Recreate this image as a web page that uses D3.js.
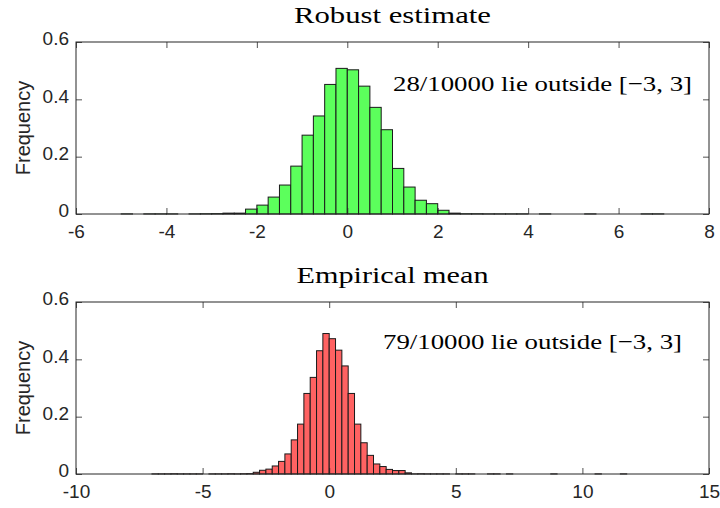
<!DOCTYPE html>
<html>
<head>
<meta charset="utf-8">
<script src="https://cdn.jsdelivr.net/npm/d3@7"></script>
<style>
  body { margin: 0; background: #fff; }
  svg { display: block; }
</style>
</head>
<body>
<div id="chart"></div>
<script>
// histogram data (bin width 0.25, normalized frequency)
const binWidth = 0.25;

// Robust estimate: bins from -5 to 7
const robustStart = -5;
const robustFreq = [
  0.0004, 0, 0.0004, 0.0004, 0.0004, 0, 0.0004, 0.0008, 0.0012,
  0.003, 0.003, 0.017, 0.031, 0.059, 0.101, 0.167, 0.275, 0.342, 0.452,
  0.508, 0.503, 0.446, 0.372, 0.294, 0.159, 0.094, 0.048, 0.036, 0.013, 0.003,
  0.0008, 0.0008, 0.0004, 0.0004, 0.0004, 0.0004, 0, 0.0004, 0, 0, 0,
  0.0004, 0, 0, 0, 0, 0.0004, 0.0004
];

// Empirical mean: bins from -7 to 12
const meanStart = -7;
const meanFreq = [
  0.0004, 0.0004, 0.0004, 0.0008, 0.0004, 0.0004, 0.0004, 0.0004, 0,
  0.0004, 0.0004, 0.0004, 0.0008, 0.0004, 0.0008, 0.0012,
  0.006, 0.013, 0.017, 0.028, 0.044, 0.070, 0.119, 0.174, 0.281, 0.337, 0.430,
  0.490, 0.472, 0.432, 0.377, 0.281, 0.174, 0.109, 0.065, 0.035, 0.026, 0.016,
  0.012, 0.012, 0.004,
  0.0004, 0.0008, 0.0004, 0.0004, 0.0004, 0.0004, 0,
  0.0004, 0.0004, 0.0004, 0, 0, 0.0004, 0.0004, 0, 0.0004, 0, 0, 0, 0, 0, 0,
  0.0004, 0, 0, 0, 0, 0, 0, 0.0004, 0, 0, 0, 0.0004, 0
];

const robustXTicks = [-6, -4, -2, 0, 2, 4, 6, 8];
const meanXTicks = [-10, -5, 0, 5, 10, 15];
const yTicks = [0, 0.2, 0.4, 0.6];

const panels = [
  { title: "Robust estimate", start: robustStart, freq: robustFreq,
    xDomain: [-6, 8], xTicks: robustXTicks, fill: "#5cff5c",
    note: "28/10000 lie outside [\u22123, 3]", top: 42, noteX: 393, noteY: 91 },
  { title: "Empirical mean", start: meanStart, freq: meanFreq,
    xDomain: [-10, 15], xTicks: meanXTicks, fill: "#ff6262",
    note: "79/10000 lie outside [\u22123, 3]", top: 302, noteX: 383, noteY: 349 }
];

const W = 720, H = 508;
const left = 76, width = 633, height = 172;
const axisColor = "#262626";

const svg = d3.select("#chart")
  .append("svg")
  .attr("width", W)
  .attr("height", H);

panels.forEach(function(p) {
  const g = svg.append("g")
    .attr("transform", `translate(${left},${p.top})`);

  const x = d3.scaleLinear().domain(p.xDomain).range([0, width]);
  const y = d3.scaleLinear().domain([0, 0.6]).range([height, 0]);

  const bins = p.freq.map((v, i) => ({
    x0: p.start + i * binWidth,
    x1: p.start + (i + 1) * binWidth,
    value: v
  }));

  // bars
  g.selectAll(".bar")
    .data(bins)
    .enter()
    .append("rect")
    .attr("class", "bar")
    .attr("x", d => x(d.x0))
    .attr("width", d => x(d.x1) - x(d.x0))
    .attr("y", d => y(d.value))
    .attr("height", d => height - y(d.value))
    .attr("fill", p.fill)
    .attr("stroke", "#1a1a1a")
    .attr("stroke-width", 1);

  // axes (matlab style: inward ticks, box)
  const xb = g.append("g")
    .attr("transform", `translate(0,${height})`)
    .call(d3.axisBottom(x).tickValues(p.xTicks).tickSizeInner(-6).tickSizeOuter(0)
      .tickPadding(11).tickFormat(d => String(d)));
  const xt = g.append("g")
    .call(d3.axisTop(x).tickValues(p.xTicks).tickSizeInner(-6).tickSizeOuter(0)
      .tickFormat(""));
  const yl = g.append("g")
    .call(d3.axisLeft(y).tickValues(yTicks).tickSizeInner(-6).tickSizeOuter(0)
      .tickPadding(7).tickFormat(d => d === 0 ? "0" : d3.format(".1f")(d)));
  const yr = g.append("g")
    .attr("transform", `translate(${width},0)`)
    .call(d3.axisRight(y).tickValues(yTicks).tickSizeInner(-6).tickSizeOuter(0)
      .tickFormat(""));

  [xb, xt, yl, yr].forEach(a => {
    a.select(".domain").remove();
    a.selectAll("line").attr("stroke", axisColor).attr("stroke-width", 0.8);
    a.selectAll("text")
      .attr("fill", axisColor)
      .style("font-family", "'Liberation Sans', Arial, sans-serif")
      .style("font-size", "19px");
  });
  yl.selectAll("text").attr("dy", "0.15em");

  // frame
  g.append("rect")
    .attr("width", width)
    .attr("height", height)
    .attr("fill", "none")
    .attr("stroke", axisColor)
    .attr("stroke-width", 1);

  // y label
  g.append("text")
    .attr("transform", "rotate(-90)")
    .attr("x", -height / 2)
    .attr("y", -46)
    .attr("text-anchor", "middle")
    .attr("fill", axisColor)
    .style("font-family", "'Liberation Sans', Arial, sans-serif")
    .style("font-size", "20px")
    .text("Frequency");

  // title
  g.append("text")
    .attr("x", width / 2)
    .attr("y", -19)
    .attr("text-anchor", "middle")
    .attr("textLength", p.title === "Robust estimate" ? 197 : 192)
    .attr("lengthAdjust", "spacingAndGlyphs")
    .style("font-family", "'Liberation Serif', 'DejaVu Serif', serif")
    .style("font-size", "23px")
    .text(p.title);

  // note
  svg.append("text")
    .attr("x", p.noteX)
    .attr("y", p.noteY)
    .attr("textLength", 299)
    .attr("lengthAdjust", "spacingAndGlyphs")
    .style("font-family", "'Liberation Serif', 'DejaVu Serif', serif")
    .style("font-size", "22px")
    .text(p.note);
});
</script>
</body>
</html>
